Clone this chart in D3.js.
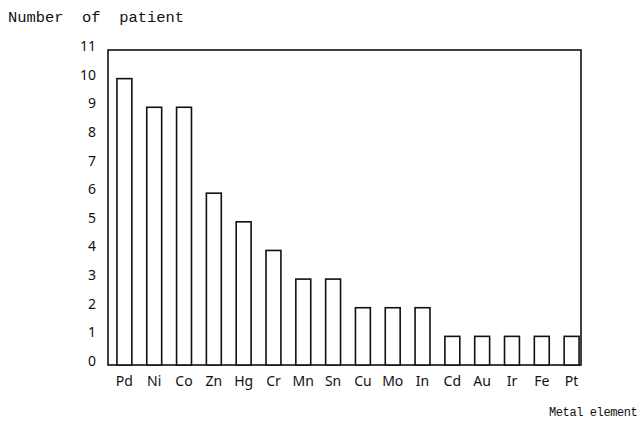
<!DOCTYPE html>
<html>
<head>
<meta charset="utf-8">
<script src="https://cdn.jsdelivr.net/npm/d3@7"></script>
<style>
  body { margin: 0; background: #fff; }
  .tick-label { font-family: "Noto Sans", sans-serif; font-size: 14px; fill: #111; }
  .title { font-family: "Liberation Mono", monospace; font-size: 14px; fill: #111; }
  .x-title { font-size: 12px; letter-spacing: -0.4px; }
</style>
</head>
<body>
<svg id="chart" width="643" height="423"></svg>
<script>
const metals = ["Pd", "Ni", "Co", "Zn", "Hg", "Cr", "Mn", "Sn", "Cu", "Mo", "In", "Cd", "Au", "Ir", "Fe", "Pt"];
const patients = [10, 9, 9, 6, 5, 4, 3, 3, 2, 2, 2, 1, 1, 1, 1, 1];
const yTicks = [0, 1, 2, 3, 4, 5, 6, 7, 8, 9, 10, 11];

const box = { left: 108, right: 581, top: 50, bottom: 365 };

const svg = d3.select("#chart");

const x = d3.scaleBand()
  .domain(metals)
  .range([box.left, 588])
  .paddingInner(0.5)
  .paddingOuter(0.3);

const y = d3.scaleLinear()
  .domain([0, 11])
  .range([box.bottom, box.top]);

// frame
svg.append("rect")
  .attr("x", box.left)
  .attr("y", box.top)
  .attr("width", box.right - box.left)
  .attr("height", box.bottom - box.top)
  .attr("fill", "none")
  .attr("stroke", "#111")
  .attr("stroke-width", 1.6);

// bars
svg.selectAll(".bar")
  .data(metals)
  .join("rect")
  .attr("class", "bar")
  .attr("x", d => x(d))
  .attr("y", (d, i) => y(patients[i]))
  .attr("width", x.bandwidth())
  .attr("height", (d, i) => y(0) - y(patients[i]))
  .attr("fill", "#fff")
  .attr("stroke", "#111")
  .attr("stroke-width", 1.6);

// y axis labels (sit a little above their value in the original)
const yAxis = d3.axisLeft(y).tickValues(yTicks).tickSize(0).tickPadding(0);
const gy = svg.append("g")
  .attr("transform", `translate(${box.left - 12},-4)`)
  .call(yAxis);
gy.select(".domain").remove();
gy.selectAll("text").attr("class", "tick-label").attr("font-size", null).attr("font-family", null);

// x axis labels
const xAxis = d3.axisBottom(x).tickSize(0).tickPadding(0);
const gx = svg.append("g")
  .attr("transform", `translate(0,${box.bottom + 11})`)
  .call(xAxis);
gx.select(".domain").remove();
gx.selectAll("text").attr("class", "tick-label").attr("font-size", null).attr("font-family", null);

// titles
svg.append("text")
  .attr("class", "title")
  .attr("x", 8)
  .attr("y", 22)
  .attr("font-size", 15)
  .attr("xml:space", "preserve")
  .attr("textLength", 176)
  .attr("lengthAdjust", "spacingAndGlyphs")
  .text("Number  of  patient");

svg.append("text")
  .attr("class", "title x-title")
  .attr("x", 549)
  .attr("y", 416)
  .text("Metal element");
</script>
</body>
</html>
